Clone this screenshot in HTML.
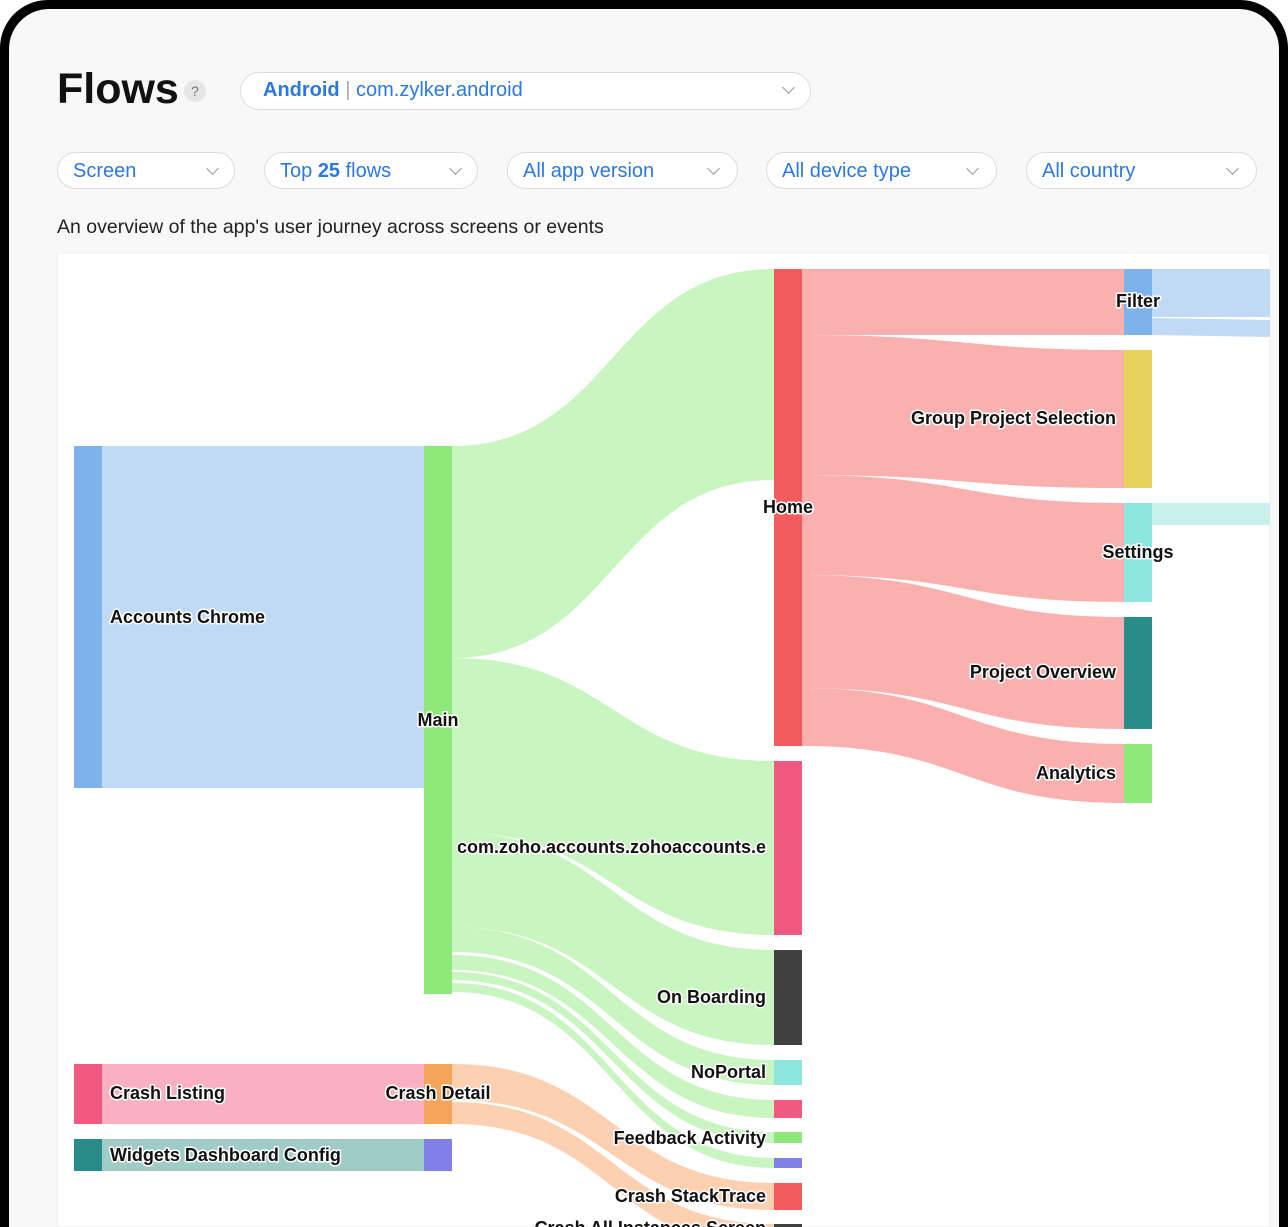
<!DOCTYPE html>
<html><head><meta charset="utf-8"><style>
html,body{margin:0;padding:0;width:1288px;height:1227px;overflow:hidden;background:#fff;font-family:"Liberation Sans",sans-serif}
.wrap{position:relative;width:1288px;height:1227px;overflow:hidden}
.frame{position:absolute;left:0;top:0;width:1288px;height:1227px;background:#000;border-radius:48px 48px 0 0}
.inner{position:absolute;left:9px;top:9px;width:1270px;height:1218px;background:#f8f8f8;border-radius:40px 40px 0 0;overflow:hidden}
.t{position:absolute;white-space:nowrap}
.pill{position:absolute;background:#fff;border:1px solid #dcdcdc;border-radius:20px;box-sizing:border-box;color:#2b78e4;font-size:20px}
.pill span.tx{position:absolute;left:15px;top:7px}
.chev{position:absolute;top:11px;width:8px;height:8px;border-right:1.3px solid #999;border-bottom:1.3px solid #999;transform:rotate(45deg)}
</style></head><body><div class="wrap">
<div class="frame"></div>
<div class="inner">
<div class="t" style="left:48px;top:56px;font-size:43px;font-weight:bold;color:#111">Flows</div>
<div class="t" style="left:175px;top:71px;width:22px;height:22px;border-radius:11px;background:#e6e6e6;color:#777;font-size:14px;text-align:center;line-height:22px">?</div>
<div class="pill" style="left:231px;top:63px;width:571px;height:38px"><span class="tx" style="left:22px;top:6px"><b>Android</b> <span style="color:#aaa">|</span> com.zylker.android</span><div class="chev" style="left:543px;top:10px"></div></div>
<div class="pill" style="left:48px;top:143px;width:178px;height:37px"><span class="tx">Screen</span><div class="chev" style="left:150px"></div></div>
<div class="pill" style="left:255px;top:143px;width:214px;height:37px"><span class="tx">Top <b>25</b> flows</span><div class="chev" style="left:186px"></div></div>
<div class="pill" style="left:498px;top:143px;width:231px;height:37px"><span class="tx">All app version</span><div class="chev" style="left:201px"></div></div>
<div class="pill" style="left:757px;top:143px;width:231px;height:37px"><span class="tx">All device type</span><div class="chev" style="left:201px"></div></div>
<div class="pill" style="left:1017px;top:143px;width:231px;height:37px"><span class="tx">All country</span><div class="chev" style="left:201px"></div></div>
<div class="t" style="left:48px;top:207px;font-size:19.5px;color:#222">An overview of the app's user journey across screens or events</div>
</div>
<svg width="1288" height="1227" style="position:absolute;left:0;top:0">
<rect x="57" y="253" width="1213" height="974" fill="#fff" stroke="#eee"/>
<g stroke="none">
<rect x="102" y="446" width="322" height="342" fill="#c0daf5"/>
<path d="M452,446 C613,446 613,269 774,269 L774,480 C613,480 613,658 452,658Z" fill="#c8f5c0"/>
<path d="M452,658 C613,658 613,761 774,761 L774,935 C613,935 613,832 452,832Z" fill="#c8f5c0"/>
<path d="M452,832 C613,832 613,950 774,950 L774,1045 C613,1045 613,927 452,927Z" fill="#c8f5c0"/>
<path d="M452,927 C613,927 613,1060 774,1060 L774,1085 C613,1085 613,952 452,952Z" fill="#c8f5c0"/>
<path d="M452,955 C613,955 613,1100 774,1100 L774,1118 C613,1118 613,970 452,970Z" fill="#c8f5c0"/>
<path d="M452,972 C613,972 613,1132 774,1132 L774,1143 C613,1143 613,980 452,980Z" fill="#c8f5c0"/>
<path d="M452,983 C613,983 613,1158 774,1158 L774,1168 C613,1168 613,992 452,992Z" fill="#c8f5c0"/>
<path d="M802,269 L1124,269 L1124,335 L802,335Z" fill="#fbb0b0"/>
<path d="M802,335 C963,335 963,350 1124,350 L1124,488 C963,488 963,475 802,475Z" fill="#fbb0b0"/>
<path d="M802,475 C963,475 963,503 1124,503 L1124,602 C963,602 963,575 802,575Z" fill="#fbb0b0"/>
<path d="M802,575 C963,575 963,617 1124,617 L1124,729 C963,729 963,688 802,688Z" fill="#fbb0b0"/>
<path d="M802,688 C963,688 963,744 1124,744 L1124,803 C963,803 963,746 802,746Z" fill="#fbb0b0"/>
<rect x="1152" y="269" width="118" height="48" fill="#c0daf5"/>
<path d="M1152,318 L1270,320 L1270,337 L1152,335Z" fill="#c0daf5"/>
<rect x="1152" y="503" width="118" height="22" fill="#c8f0ec"/>
<rect x="102" y="1064" width="322" height="60" fill="#f9b0c0"/>
<rect x="102" y="1139" width="322" height="32" fill="#a0ccc8"/>
<path d="M452,1064 C613,1064 613,1183 774,1183 L774,1210 C613,1210 613,1100 452,1100Z" fill="#fcd0b0"/>
<path d="M452,1102 C613,1102 613,1224 774,1224 L774,1250 C613,1250 613,1124 452,1124Z" fill="#fcd0b0"/>
<rect x="74" y="446" width="28" height="342" fill="#7db3ea"/>
<rect x="424" y="446" width="28" height="548" fill="#8ee87a"/>
<rect x="774" y="269" width="28" height="477" fill="#f25c5c"/>
<rect x="774" y="761" width="28" height="174" fill="#f05a80"/>
<rect x="774" y="950" width="28" height="95" fill="#404040"/>
<rect x="774" y="1060" width="28" height="25" fill="#8ee6e0"/>
<rect x="774" y="1100" width="28" height="18" fill="#f05a80"/>
<rect x="774" y="1132" width="28" height="11" fill="#8ee87a"/>
<rect x="774" y="1158" width="28" height="10" fill="#8080e8"/>
<rect x="774" y="1183" width="28" height="27" fill="#f25c5c"/>
<rect x="774" y="1224" width="28" height="3" fill="#404040"/>
<rect x="1124" y="269" width="28" height="66" fill="#7db3ea"/>
<rect x="1124" y="350" width="28" height="138" fill="#e5d35a"/>
<rect x="1124" y="503" width="28" height="99" fill="#8ee6e0"/>
<rect x="1124" y="617" width="28" height="112" fill="#2a8c88"/>
<rect x="1124" y="744" width="28" height="59" fill="#8ee87a"/>
<rect x="74" y="1064" width="28" height="60" fill="#f05a80"/>
<rect x="424" y="1064" width="28" height="60" fill="#f5a55a"/>
<rect x="74" y="1139" width="28" height="32" fill="#2a8c88"/>
<rect x="424" y="1139" width="28" height="32" fill="#8080e8"/>
</g>
<g font-family="Liberation Sans, sans-serif" font-weight="bold" font-size="18" fill="#111" stroke="#fff" stroke-width="3" paint-order="stroke" stroke-linejoin="round">
<text x="110" y="623">Accounts Chrome</text>
<text x="438" y="726" text-anchor="middle">Main</text>
<text x="788" y="513" text-anchor="middle">Home</text>
<text x="766" y="853" text-anchor="end">com.zoho.accounts.zohoaccounts.e</text>
<text x="766" y="1003" text-anchor="end">On Boarding</text>
<text x="766" y="1078" text-anchor="end">NoPortal</text>
<text x="766" y="1144" text-anchor="end">Feedback Activity</text>
<text x="766" y="1202" text-anchor="end">Crash StackTrace</text>
<text x="766" y="1234" text-anchor="end">Crash All Instances Screen</text>
<text x="1138" y="307" text-anchor="middle">Filter</text>
<text x="1116" y="424" text-anchor="end">Group Project Selection</text>
<text x="1138" y="558" text-anchor="middle">Settings</text>
<text x="1116" y="678" text-anchor="end">Project Overview</text>
<text x="1116" y="779" text-anchor="end">Analytics</text>
<text x="110" y="1099">Crash Listing</text>
<text x="438" y="1099" text-anchor="middle">Crash Detail</text>
<text x="110" y="1161">Widgets Dashboard Config</text>
</g>
</svg>
</div></body></html>
